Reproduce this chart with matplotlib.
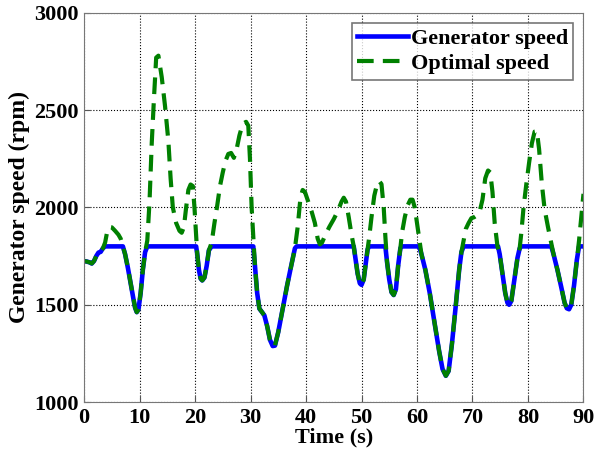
import numpy as np
import matplotlib
matplotlib.use("Agg")
import matplotlib.pyplot as plt

# generator speed (rpm), limited at rated speed
gen_t = [0, 0.5, 1.0, 1.4, 1.8, 2.2, 2.6, 3.0, 3.4, 3.8,
         7.0, 7.4, 7.9, 8.4, 8.9, 9.2, 9.5, 9.8, 10.2, 10.6, 11.0, 11.4,
         20.2, 20.4, 20.7, 21.0, 21.3, 21.7, 22.1, 22.5, 23.0,
         30.5, 30.8, 31.2, 31.6, 32.0, 32.5, 33.0, 33.5, 34.0, 34.4, 35.0, 35.8, 36.6, 37.4, 38.0, 38.3,
         48.6, 48.9, 49.3, 49.7, 50.0, 50.4, 50.8, 51.1, 51.4,
         54.3, 54.6, 55.0, 55.4, 55.8, 56.2, 56.6, 57.0, 57.2,
         60.4, 60.8, 61.5, 62.3, 63.2, 64.0, 64.6, 65.2, 65.7, 66.3, 67.0, 67.6, 68.0, 68.4,
         74.6, 74.9, 75.4, 75.9, 76.3, 76.6, 77.0, 77.5, 78.1, 78.5, 78.8,
         84.2, 84.6, 85.3, 86.0, 86.6, 87.0, 87.4, 87.8, 88.3, 88.8, 89.2, 90]
gen_v = [1725, 1722, 1718, 1712, 1725, 1750, 1768, 1772, 1790, 1800,
         1800, 1760, 1690, 1610, 1530, 1485, 1462, 1475, 1560, 1680, 1770, 1800,
         1800, 1760, 1680, 1635, 1625, 1640, 1700, 1780, 1800,
         1800, 1700, 1560, 1480, 1465, 1445, 1390, 1320, 1288, 1290, 1360, 1480, 1600, 1710, 1790, 1800,
         1800, 1740, 1660, 1610, 1602, 1630, 1720, 1785, 1800,
         1800, 1720, 1630, 1565, 1550, 1580, 1700, 1790, 1800,
         1800, 1760, 1680, 1560, 1400, 1260, 1170, 1135, 1160, 1300, 1500, 1680, 1770, 1800,
         1800, 1760, 1660, 1560, 1510, 1500, 1520, 1620, 1740, 1790, 1800,
         1800, 1760, 1680, 1590, 1510, 1482, 1477, 1500, 1600, 1730, 1800, 1800]

# optimal speed (rpm)
opt_t = [0, 0.5, 1.0, 1.4, 1.8, 2.2, 2.6, 3.0, 3.4, 3.8, 4.2, 4.6, 5.0, 5.6, 6.2, 6.6, 7.0,
         7.4, 7.9, 8.4, 8.9, 9.2, 9.5, 9.8, 10.2, 10.6, 11.0,
         11.4, 11.8, 12.2, 12.6, 13.0, 13.4, 14.0, 14.6, 15.2, 15.6, 16.0, 16.6, 17.2, 17.6,
         18.0, 18.4, 18.8, 19.2, 19.6, 19.9, 20.2,
         20.4, 20.7, 21.0, 21.3, 21.7, 22.1, 22.5,
         23.0, 23.5, 24.0, 24.5, 25.0, 25.5, 26.0, 26.5, 27.0, 27.5, 28.0, 28.6, 29.2, 29.6, 29.9, 30.2, 30.5,
         30.8, 31.2, 31.6, 32.0, 32.5, 33.0, 33.5, 34.0, 34.4, 35.0, 35.8, 36.6, 37.4, 38.0,
         38.5, 39.0, 39.4, 39.8, 40.4, 41.0, 41.6, 42.1, 42.5, 42.9, 43.5, 44.2, 45.0, 45.7, 46.4, 46.8,
         47.2, 47.7, 48.2, 48.6,
         48.9, 49.3, 49.7, 50.0, 50.4, 50.8, 51.1,
         51.4, 51.8, 52.3, 52.8, 53.2, 53.6, 54.0, 54.3,
         54.6, 55.0, 55.4, 55.8, 56.2, 56.6, 57.0,
         57.3, 57.8, 58.3, 58.8, 59.2, 59.6, 60.0, 60.4,
         60.8, 61.5, 62.3, 63.2, 64.0, 64.6, 65.2, 65.7, 66.3, 67.0, 67.6, 68.0,
         68.4, 68.8, 69.3, 69.8, 70.3, 70.8, 71.3, 71.8, 72.3, 72.8, 73.2, 73.6, 74.0, 74.5,
         74.9, 75.4, 75.9, 76.3, 76.6, 77.0, 77.5, 78.1, 78.5,
         78.8, 79.2, 79.7, 80.2, 80.7, 81.2, 81.6, 82.0, 82.5, 83.0, 83.6, 84.1,
         84.6, 85.3, 86.0, 86.6, 87.0, 87.4, 87.8, 88.3, 88.8, 89.2, 89.6, 90]
opt_v = [1725, 1722, 1718, 1712, 1725, 1750, 1768, 1772, 1790, 1820, 1880, 1900, 1898, 1880, 1860, 1840, 1800,
         1760, 1690, 1610, 1530, 1485, 1462, 1475, 1560, 1680, 1770,
         1830, 2030, 2330, 2560, 2770, 2780, 2670, 2520, 2340, 2150, 2000, 1920, 1880, 1870,
         1900, 2000, 2090, 2118, 2110, 2000, 1850,
         1760, 1680, 1635, 1625, 1640, 1700, 1780,
         1820, 1920, 2010, 2110, 2180, 2240, 2275, 2280, 2255, 2300, 2370, 2430, 2440, 2420, 2250, 2000, 1850,
         1700, 1560, 1480, 1465, 1445, 1390, 1320, 1288, 1290, 1360, 1480, 1600, 1710, 1790,
         1900, 2050, 2090, 2080, 2030, 1980, 1920, 1840, 1810, 1820, 1860, 1900, 1940, 1980, 2030, 2050,
         2030, 1950, 1860, 1800,
         1740, 1660, 1610, 1602, 1630, 1720, 1785,
         1850, 1950, 2060, 2120, 2135, 2120, 2000, 1850,
         1720, 1630, 1565, 1550, 1580, 1700, 1790,
         1870, 1950, 2010, 2040, 2040, 2000, 1920, 1840,
         1760, 1680, 1560, 1400, 1260, 1170, 1135, 1160, 1300, 1500, 1680, 1770,
         1830, 1890, 1920, 1945, 1950, 1960, 1980, 2040, 2150, 2190, 2180, 2080, 1920, 1800,
         1760, 1660, 1560, 1510, 1500, 1520, 1620, 1740, 1790,
         1870, 2000, 2120, 2230, 2330, 2390, 2392, 2300, 2120, 1990, 1900, 1830,
         1760, 1680, 1590, 1510, 1482, 1477, 1500, 1600, 1730, 1830, 1950, 2070]

x_ticks = np.arange(0, 91, 10)
y_ticks = np.arange(1000, 3001, 500)

plt.rcParams['font.family'] = ['Liberation Serif', 'DejaVu Serif']
plt.rcParams['font.weight'] = 'bold'

fig = plt.figure(figsize=(5.96, 4.59), dpi=100)
ax = fig.add_axes([0.141, 0.124, 0.838, 0.848])

ax.plot(gen_t, gen_v, color='#0000ff', lw=3.3, label='Generator speed')
ax.plot(opt_t, opt_v, color='#008000', lw=3.0, dashes=(4, 2.2), label='Optimal speed')

ax.set_xlim(0, 90)
ax.set_ylim(1000, 3000)
ax.set_xticks(x_ticks)
ax.set_yticks(y_ticks)
ax.tick_params(direction='in', labelsize=16, length=4, color='#555555', pad=4)
ax.grid(True, linestyle=':', color='black', lw=0.8)
for sp in ax.spines.values():
    sp.set_color('#777777')

ax.set_xlabel('Time (s)', fontsize=16, fontweight='bold', labelpad=0)
ax.set_ylabel('Generator speed (rpm)', fontsize=17, fontweight='bold', labelpad=3)

leg = ax.legend(loc='upper right', fontsize=16, frameon=True, fancybox=False,
                handlelength=2.3, handletextpad=0.1, borderpad=0.25,
                labelspacing=0.2, borderaxespad=0.45)
leg.get_frame().set_edgecolor('#555555')
leg.get_frame().set_linewidth(1.2)

fig.savefig('out.png', dpi=100)
